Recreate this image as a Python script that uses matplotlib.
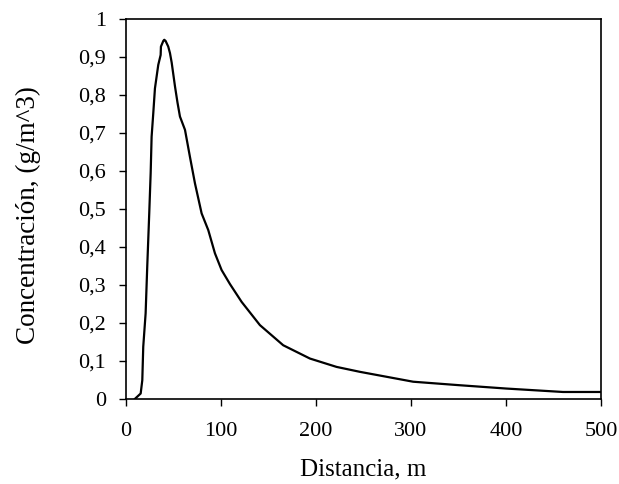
import matplotlib

matplotlib.use("Agg")

import matplotlib.pyplot as plt
from matplotlib.ticker import FuncFormatter

distance = [9.8, 15.8, 17.5, 18.5, 21.0, 22.7, 24.8, 26.3, 27.3, 29.0, 30.8, 34.3,
            36.8, 37.1, 39.6, 40.6, 42.0, 44.8, 46.6, 48.4, 51.9, 54.5, 57.1, 62.4,
            67.6, 72.9, 79.9, 86.9, 93.9, 100.9, 109.7, 122.0, 141.2, 165.7, 193.8,
            221.8, 246.4, 274.4, 302.4, 350.0, 400.5, 460.0, 500.0]
concentration = [0.0, 0.014, 0.049, 0.137, 0.225, 0.348, 0.488, 0.594, 0.69, 0.75,
                 0.817, 0.879, 0.905, 0.927, 0.942, 0.945, 0.942, 0.927, 0.91, 0.885,
                 0.822, 0.78, 0.743, 0.708, 0.637, 0.567, 0.488, 0.444, 0.383, 0.339,
                 0.302, 0.255, 0.194, 0.141, 0.106, 0.084, 0.071, 0.058, 0.045,
                 0.036, 0.027, 0.018, 0.018]

plt.rcParams["font.family"] = ["Liberation Serif", "DejaVu Serif"]

fig = plt.figure(figsize=(6.19, 4.84), dpi=100)
ax = fig.add_axes([0.203, 0.176, 0.768, 0.785])
ax.plot(distance, concentration, color="black", linewidth=1.6)

ax.set_xlim(0, 500)
ax.set_ylim(0, 1)
ax.set_xticks(range(0, 501, 100))
ax.set_yticks([i / 10 for i in range(11)])
ax.yaxis.set_major_formatter(
    FuncFormatter(lambda v, pos: f"{v:g}".replace(".", ","))
)
ax.tick_params(direction="out", length=5, width=1, labelsize=16)
ax.tick_params(axis="x", pad=12)
ax.tick_params(axis="y", pad=9)
for spine in ax.spines.values():
    spine.set_linewidth(1.2)

ax.set_xlabel("Distancia, m", fontsize=18, labelpad=12)
ax.set_ylabel("Concentración, (g/m^3)", fontsize=19.5)
ax.yaxis.set_label_coords(-0.178, 0.484)

fig.savefig("out.png", dpi=100)
plt.close(fig)
